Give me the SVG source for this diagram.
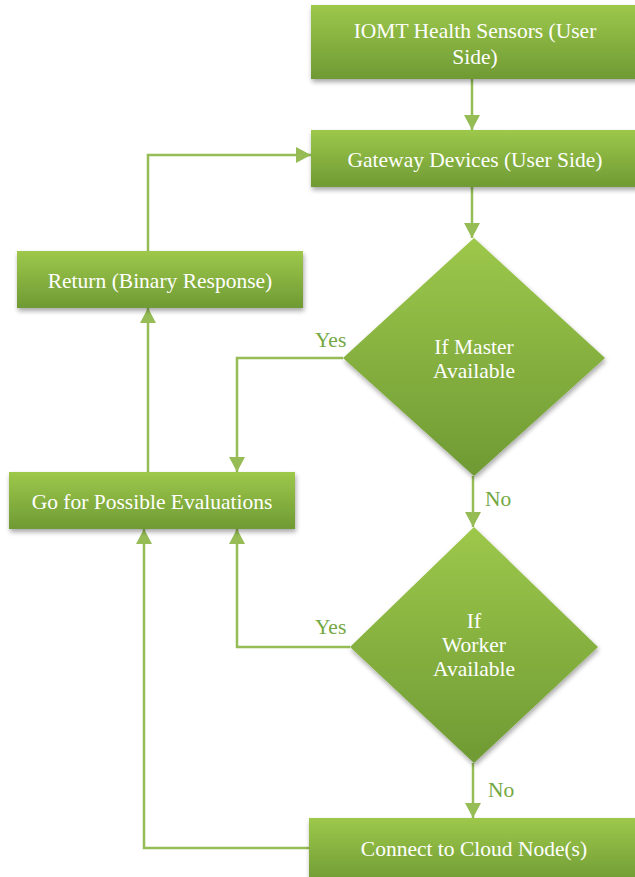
<svg xmlns="http://www.w3.org/2000/svg" width="635" height="877" viewBox="0 0 635 877">
<defs>
<linearGradient id="g" x1="0" y1="0" x2="0" y2="1">
<stop offset="0" stop-color="#9dc84b"/>
<stop offset="1" stop-color="#6f9a34"/>
</linearGradient>
<filter id="sh" x="-10%" y="-10%" width="130%" height="140%">
<feGaussianBlur in="SourceAlpha" stdDeviation="2.5"/>
<feOffset dx="1" dy="3" result="b"/>
<feComponentTransfer><feFuncA type="linear" slope="0.35"/></feComponentTransfer>
<feMerge><feMergeNode/><feMergeNode in="SourceGraphic"/></feMerge>
</filter>
<marker id="ah" markerUnits="userSpaceOnUse" markerWidth="16" markerHeight="16" refX="15" refY="8" orient="auto">
<path d="M0,0 L15,8 L0,16 Z" fill="#95bc55"/>
</marker>
<style>
.box{fill:url(#g);filter:url(#sh);}
text{font-family:'Liberation Serif',serif;font-size:21.5px;}
.t{fill:#ffffff;text-anchor:middle;}
.lbl{fill:#74a843;}
.c{fill:none;stroke:#95bc55;stroke-width:2.5;marker-end:url(#ah);}
</style>
</defs>
<rect width="635" height="877" fill="#ffffff"/>
<g id="connectors" font-family="Liberation Serif">
<path class="c" d="M472,79 L472,130"/>
<path class="c" d="M472,187 L472,238"/>
<path class="c" d="M148,251 L148,155 L311,155"/>
<path class="c" d="M148,472 L148,308"/>
<path class="c" d="M343,358 L237,358 L237,472"/>
<path class="c" d="M473,476 L473,527"/>
<path class="c" d="M350,647 L237,647 L237,529"/>
<path class="c" d="M473,763 L473,818"/>
<path class="c" d="M309,848 L144,848 L144,529"/>
<text class="lbl" x="315" y="347">Yes</text>
<text class="lbl" x="315" y="634">Yes</text>
<text class="lbl" x="485" y="506">No</text>
<text class="lbl" x="488" y="797">No</text>
</g>
<g id="iomt" font-family="Liberation Serif">
<rect class="box" x="311" y="5" width="330" height="74"/>
<text class="t" x="475" y="38">IOMT Health Sensors (User</text>
<text class="t" x="475" y="64">Side)</text>
</g>
<g id="gateway" font-family="Liberation Serif">
<rect class="box" x="311" y="130" width="330" height="57"/>
<text class="t" x="475" y="167">Gateway Devices (User Side)</text>
</g>
<g id="master" font-family="Liberation Serif">
<path class="box" d="M474,238 L605,358 L474,476 L343,358 Z"/>
<text class="t" x="474" y="354">If Master</text>
<text class="t" x="474" y="378">Available</text>
</g>
<g id="worker" font-family="Liberation Serif">
<path class="box" d="M474,527 L598,647 L474,763 L350,647 Z"/>
<text class="t" x="474" y="628">If</text>
<text class="t" x="474" y="652">Worker</text>
<text class="t" x="474" y="676">Available</text>
</g>
<g id="return" font-family="Liberation Serif">
<rect class="box" x="17" y="251" width="286" height="57"/>
<text class="t" x="160" y="288">Return (Binary Response)</text>
</g>
<g id="evaluate" font-family="Liberation Serif">
<rect class="box" x="9" y="472" width="286" height="57"/>
<text class="t" x="152" y="509">Go for Possible Evaluations</text>
</g>
<g id="cloud" font-family="Liberation Serif">
<rect class="box" x="309" y="818" width="330" height="66"/>
<text class="t" x="474" y="856">Connect to Cloud Node(s)</text>
</g>
</svg>
